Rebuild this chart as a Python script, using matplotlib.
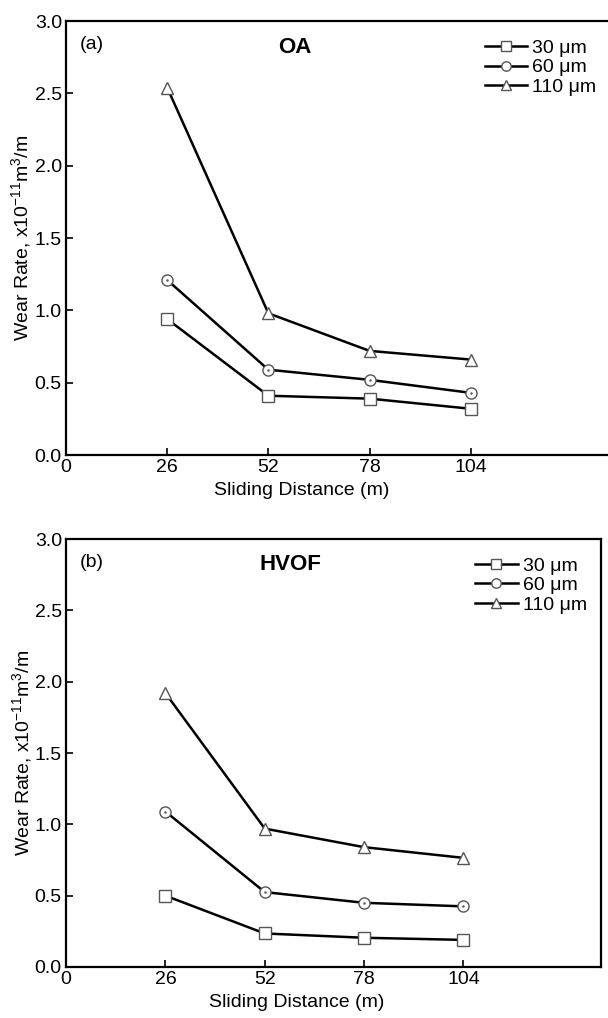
import numpy as np
import matplotlib.pyplot as plt

plt.rcParams['font.family'] = ['Liberation Sans', 'DejaVu Sans']
plt.rcParams['mathtext.default'] = 'regular'

distance = [26, 52, 78, 104]
labels = ['30 \u03bcm', '60 \u03bcm', '110 \u03bcm']

# OA coating, wear rate x1e-11 m3/m
oa_30 = [0.94, 0.41, 0.39, 0.32]
oa_60 = [1.21, 0.59, 0.52, 0.43]
oa_110 = [2.54, 0.98, 0.72, 0.66]

# HVOF coating
hvof_30 = [0.50, 0.235, 0.205, 0.19]
hvof_60 = [1.09, 0.525, 0.45, 0.425]
hvof_110 = [1.92, 0.97, 0.84, 0.765]

markers = ['s', 'o', '^']
edge = '#555555'


def panel(ax, series, tag, title, xlab_x):
    for vals, m, lab in zip(series, markers, labels):
        ax.plot(distance, vals, color='black', lw=1.8, marker=m, ms=8,
                mfc='white', mec=edge, mew=1.0, label=lab)
        if m == 'o':
            ax.plot(distance, vals, ls='none', marker='.', ms=1.5, color=edge)
    ax.set_xlim(0, 140)
    ax.set_ylim(0, 3.0)
    ax.set_xticks([0, 26, 52, 78, 104])
    ax.set_yticks(np.arange(0, 3.01, 0.5))
    ax.yaxis.set_major_formatter(plt.FormatStrFormatter('%.1f'))
    ax.tick_params(direction='in', length=5, width=1.2, labelsize=14, pad=3)
    for s in ax.spines.values():
        s.set_linewidth(1.6)
    ax.set_xlabel('Sliding Distance (m)', fontsize=14)
    ax.xaxis.set_label_coords(xlab_x, -0.062)
    ax.set_ylabel('Wear Rate, x10$^{-11}$m$^3$/m', fontsize=14)
    ax.yaxis.set_label_coords(-0.06, 0.5)
    ax.text(0.025, 0.945, tag, transform=ax.transAxes, fontsize=14, va='center')
    ax.text(0.42, 0.94, title, transform=ax.transAxes, fontsize=16,
            fontweight='bold', ha='center', va='center')
    ax.legend(loc='upper right', bbox_to_anchor=(0.995, 0.985), frameon=False,
              fontsize=14, handlelength=2.2, handletextpad=0.25,
              labelspacing=0.1, borderaxespad=0.2, markerscale=0.85)


fig = plt.figure(figsize=(6.08, 10.18), dpi=100)
ax1 = fig.add_axes([0.1086, 0.553, 0.896, 0.4263])
ax2 = fig.add_axes([0.1086, 0.0501, 0.88, 0.4204])

panel(ax1, [oa_30, oa_60, oa_110], '(a)', 'OA', 0.433)
panel(ax2, [hvof_30, hvof_60, hvof_110], '(b)', 'HVOF', 0.432)

fig.savefig('out.png', dpi=100)
